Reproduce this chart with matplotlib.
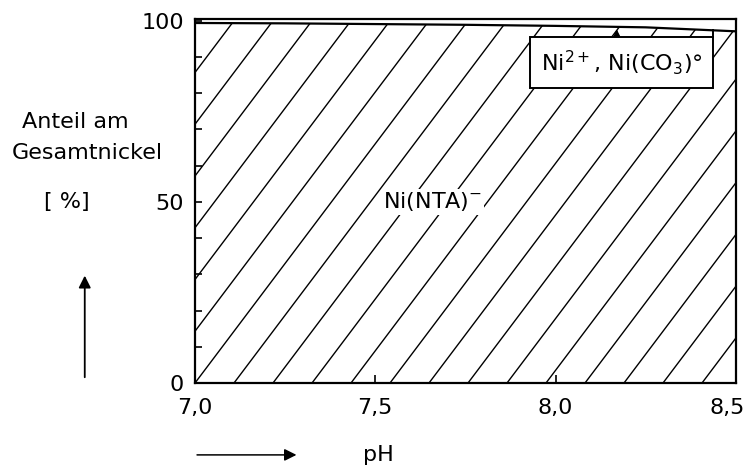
import numpy as np
import matplotlib
matplotlib.use("Agg")
import matplotlib.pyplot as plt
from matplotlib.patches import Polygon, Rectangle, FancyArrowPatch
from matplotlib.transforms import ScaledTranslation

plt.rcParams['font.family'] = ['DejaVu Sans']

# data
ph = [7.0, 7.25, 7.5, 7.75, 8.0, 8.25, 8.5]
ni_nta = [99.4, 99.3, 99.1, 98.9, 98.6, 98.2, 97.1]   # Ni(NTA)- share, %
xticks = [7.0, 7.5, 8.0, 8.5]
xticklabels = ['7,0', '7,5', '8,0', '8,5']
yticks = [0, 50, 100]
yticklabels = ['0', '50', '100']

fs = 16
fig = plt.figure(figsize=(7.5, 4.68), dpi=100)
ax = fig.add_axes([0.26, 0.1816, 0.721, 0.7778])
ax.set_xlim(7.0, 8.5)
ax.set_ylim(0, 100.5)

# region polygon under the curve
verts = [(ph[0], 0)] + list(zip(ph, ni_nta)) + [(ph[-1], 0)]
region = Polygon(verts, closed=True, facecolor='none', edgecolor='none')
ax.add_patch(region)

# diagonal hatching, steeper than the built-in 45 deg hatch
fig_w, fig_h = fig.get_size_inches() * fig.dpi
bb = ax.get_position()
px_x = bb.width * fig_w / 1.5       # pixels per pH unit
px_y = bb.height * fig_h / 100.5    # pixels per percent
ang = np.deg2rad(53)
step = 39 / px_x                    # horizontal spacing in pH
slope = np.tan(ang) * px_x / px_y   # % per pH
span = 101 / slope
for k in range(-int(span / step) - 1, int(1.5 / step) + 2):
    x0 = 7.0 + k * step
    ln, = ax.plot([x0, x0 + span], [0, 101], color='black', lw=1.0)
    ln.set_clip_path(region)

ax.plot(ph, ni_nta, color='black', lw=1.6)

# label box for Ni2+ / Ni(CO3)0
bx0, bx1, by0, by1 = 7.93, 8.438, 81.5, 95.4
box = Rectangle((bx0, by0), bx1 - bx0, by1 - by0, facecolor='white',
                edgecolor='black', lw=1.4, zorder=3)
ax.add_patch(box)
ax.plot([bx1, bx1], [by1, 97.6], color='black', lw=1.4, zorder=3)
ax.text((bx0 + bx1) / 2, 88.4, 'Ni$^{2+}$, Ni(CO$_3$)°', ha='center',
        va='center', fontsize=fs, zorder=4)
ax.annotate('', xy=(8.17, 98.4), xytext=(8.17, by1),
            arrowprops=dict(arrowstyle='-|>', color='black', lw=1.0,
                            mutation_scale=10), zorder=4)

ax.text(7.66, 50, 'Ni(NTA)$^{-}$', ha='center', va='center', fontsize=fs,
        bbox=dict(facecolor='white', edgecolor='none', pad=1))

ax.set_xticks(xticks)
ax.set_xticklabels(xticklabels)
ax.set_yticks(yticks)
ax.set_yticklabels(yticklabels)
ax.set_yticks(np.arange(0, 101, 10), minor=True)
ax.tick_params(axis='both', which='both', direction='in', labelsize=fs,
               width=1.2)
ax.tick_params(axis='x', length=6, pad=11)
ax.tick_params(axis='y', which='both', length=5, pad=8)
for s in ax.spines.values():
    s.set_linewidth(1.6)
lab = ax.get_xticklabels()[-1]
lab.set_transform(lab.get_transform() +
                  ScaledTranslation(-6 / 72, 0, fig.dpi_scale_trans))

# axis captions and arrows
fig.text(0.101, 0.739, 'Anteil am', ha='center', va='center', fontsize=fs)
fig.text(0.117, 0.673, 'Gesamtnickel', ha='center', va='center', fontsize=fs)
fig.text(0.089, 0.568, '[ %]', ha='center', va='center', fontsize=fs)
fig.text(0.504, 0.028, 'pH', ha='center', va='center', fontsize=fs)
fig.add_artist(FancyArrowPatch(
    (0.113, 0.188), (0.113, 0.417), transform=fig.transFigure,
    arrowstyle='-|>', mutation_scale=18, lw=1.3, color='black'))
fig.add_artist(FancyArrowPatch(
    (0.259, 0.028), (0.399, 0.028), transform=fig.transFigure,
    arrowstyle='-|>', mutation_scale=18, lw=1.1, color='black'))

fig.savefig('out.png', dpi=100)
